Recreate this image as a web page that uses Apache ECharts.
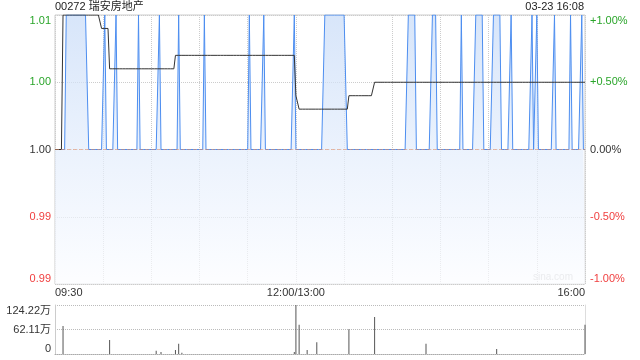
<!DOCTYPE html>
<html><head><meta charset="utf-8">
<script src="https://cdn.jsdelivr.net/npm/echarts@6/dist/echarts.min.js"></script>
<style>html,body{margin:0;padding:0;background:#fff}#c{width:640px;height:360px}</style>
</head><body><div id="c"></div>
<script>
// ---- data ----
const stockTitle = '00272 瑞安房地产';
const stampText = '03-23 16:08';
const prevClose = 1.00;
const lowPrice = 1.00;
const highPrice = 1.01;
// minute ranges (inclusive, minutes since 09:30, trading minutes) where price = 1.01
const highRuns = [[7,20],[31,31],[38,38],[52,52],[65,65],[77,77],[93,93],[121,121],[130,130],[149,149],[168,181],[220,224],[235,237],[253,253],[262,266],[273,277],[284,284],[297,297],[300,300],[311,311],[321,321],[328,328]];
// average price: value holds from each start minute until the next one
const avgStarts = [0,5,29,34,75,150,152,183,199];
const avgValues = [1.000,1.010,1.009,1.006,1.007,1.004,1.003,1.004,1.005];
// volume (万股)
const volMinutes = [5,34,63,66,75,77,79,149,150,152,157,163,183,199,231,275,330];
const volValues  = [71,35.5,8.4,5,10,26,3,5,124.22,74,10,30,63,94,26,12.7,74];
// tick labels
const priceTicks = ['0.99','0.99','1.00','1.00','1.01'];
const pctTicks = ['-1.00%','-0.50%','0.00%','+0.50%','+1.00%'];
const volTicks = ['0','62.11万','124.22万'];
const timeTickMinutes = [0,150,330];
const timeTicks = ['09:30','12:00/13:00','16:00'];
const totalMinutes = 330;

// ---- build series ----
const priceData = [];
const avgData = [];
for (let m = 0; m <= totalMinutes; m++) {
  let p = lowPrice;
  for (const r of highRuns) if (m >= r[0] && m <= r[1]) p = highPrice;
  priceData.push([m, p]);
  let a = avgValues[0];
  for (let i = 0; i < avgStarts.length; i++) if (m >= avgStarts[i]) a = avgValues[i];
  avgData.push([m, a]);
}
const volData = volMinutes.map((m, i) => [m, volValues[i]]);

const GREEN = '#2aa52a', RED = '#f04040', DARK = '#333';
const tickColors = [RED, RED, DARK, GREEN, GREEN];
const font = '"Liberation Sans", Arial, "Noto Sans CJK SC", sans-serif';
const priceIdx = v => Math.round((Number(v) - 0.99) / 0.005);
const pctIdx = v => Math.round((Number(v) + 1) / 0.5);

const chart = echarts.init(document.getElementById('c'), null, {renderer: 'canvas'});
chart.setOption({
  animation: false,
  textStyle: {fontFamily: font},
  title: [
    {text: stockTitle, left: 55, top: 1, padding: 0, textStyle: {fontSize: 11, fontWeight: 'normal', color: '#222', fontFamily: font}},
    {text: stampText, right: 56, top: 1, padding: 0, textStyle: {fontSize: 11, fontWeight: 'normal', color: '#222', fontFamily: font}}
  ],
  graphic: [{type: 'text', right: 67, top: 272, style: {text: 'sina.com', fill: '#c8c8c8', font: '10px ' + font}}],
  grid: [
    {left: 55, right: 55, top: 15, height: 269, show: true, borderColor: '#ccc', borderWidth: 1, outerBoundsMode: 'none'},
    {left: 55, right: 55, top: 305, height: 49, outerBoundsMode: 'none'}
  ],
  xAxis: [
    {type: 'value', gridIndex: 0, min: 0, max: totalMinutes, interval: 30,
     axisLine: {show: false}, axisTick: {show: false},
     splitLine: {show: true, lineStyle: {type: 'dotted', color: '#ccc'}},
     axisLabel: {fontSize: 11, color: DARK, margin: 3, showMinLabel: true, showMaxLabel: true,
       alignMinLabel: 'left', alignMaxLabel: 'right',
       formatter: v => { const i = timeTickMinutes.indexOf(Math.round(v)); return i >= 0 ? timeTicks[i] : ''; }}},
    {type: 'value', gridIndex: 1, min: 0, max: totalMinutes, interval: 30,
     axisLine: {show: true, onZero: false, lineStyle: {type: 'dotted', color: '#aaa'}}, axisTick: {show: false},
     axisLabel: {show: false}, splitLine: {show: false}}
  ],
  yAxis: [
    {type: 'value', gridIndex: 0, min: 0.99, max: 1.01, interval: 0.005, position: 'left',
     axisLine: {show: false}, axisTick: {show: false},
     splitLine: {show: true, lineStyle: {type: 'dotted', color: '#ccc'}},
     axisLabel: {fontSize: 11, margin: 4, showMinLabel: true, showMaxLabel: true,
       verticalAlignMaxLabel: 'top', verticalAlignMinLabel: 'bottom',
       formatter: v => priceTicks[priceIdx(v)],
       color: v => tickColors[priceIdx(v)]}},
    {type: 'value', gridIndex: 0, min: -1, max: 1, interval: 0.5, position: 'right',
     axisLine: {show: false}, axisTick: {show: false}, splitLine: {show: false},
     axisLabel: {fontSize: 11, margin: 5, showMinLabel: true, showMaxLabel: true,
       verticalAlignMaxLabel: 'top', verticalAlignMinLabel: 'bottom',
       formatter: v => pctTicks[pctIdx(v)],
       color: v => tickColors[pctIdx(v)]}},
    {type: 'value', gridIndex: 1, min: 0, max: 124.22, interval: 62.11, position: 'left',
     axisLine: {show: true, lineStyle: {color: '#ccc'}}, axisTick: {show: false},
     splitLine: {show: true, lineStyle: {type: 'dotted', color: '#bbb'}},
     axisLabel: {fontSize: 11, color: DARK, margin: 4, showMinLabel: true, showMaxLabel: true,
       verticalAlignMaxLabel: 'top', verticalAlignMinLabel: 'bottom',
       formatter: v => volTicks[Math.round(v / 62.11)]}},
    {type: 'value', gridIndex: 1, min: 0, max: 124.22, interval: 62.11, position: 'right',
     axisLine: {show: true, lineStyle: {color: '#ddd'}}, axisTick: {show: false},
     splitLine: {show: false}, axisLabel: {show: false}}
  ],
  series: [
    {type: 'line', xAxisIndex: 0, yAxisIndex: 0, data: priceData, symbol: 'none',
     lineStyle: {color: '#4d8ef0', width: 1},
     areaStyle: {origin: 'start', color: new echarts.graphic.LinearGradient(0, 0, 0, 1, [
       {offset: 0, color: 'rgb(198,218,247)'},
       {offset: 0.5, color: 'rgb(226,236,251)'},
       {offset: 1, color: 'rgb(251,252,255)'}])},
     markLine: {silent: true, symbol: 'none', label: {show: false},
       lineStyle: {type: 'dashed', color: 'rgba(225,140,100,0.55)', width: 1},
       data: [{yAxis: prevClose}]}},
    {type: 'line', xAxisIndex: 0, yAxisIndex: 0, data: avgData, symbol: 'none',
     lineStyle: {color: '#333', width: 1}, z: 3},
    {type: 'bar', xAxisIndex: 1, yAxisIndex: 2, data: volData, barWidth: 1,
     itemStyle: {color: '#555'}}
  ]
});
</script>
</body></html>
